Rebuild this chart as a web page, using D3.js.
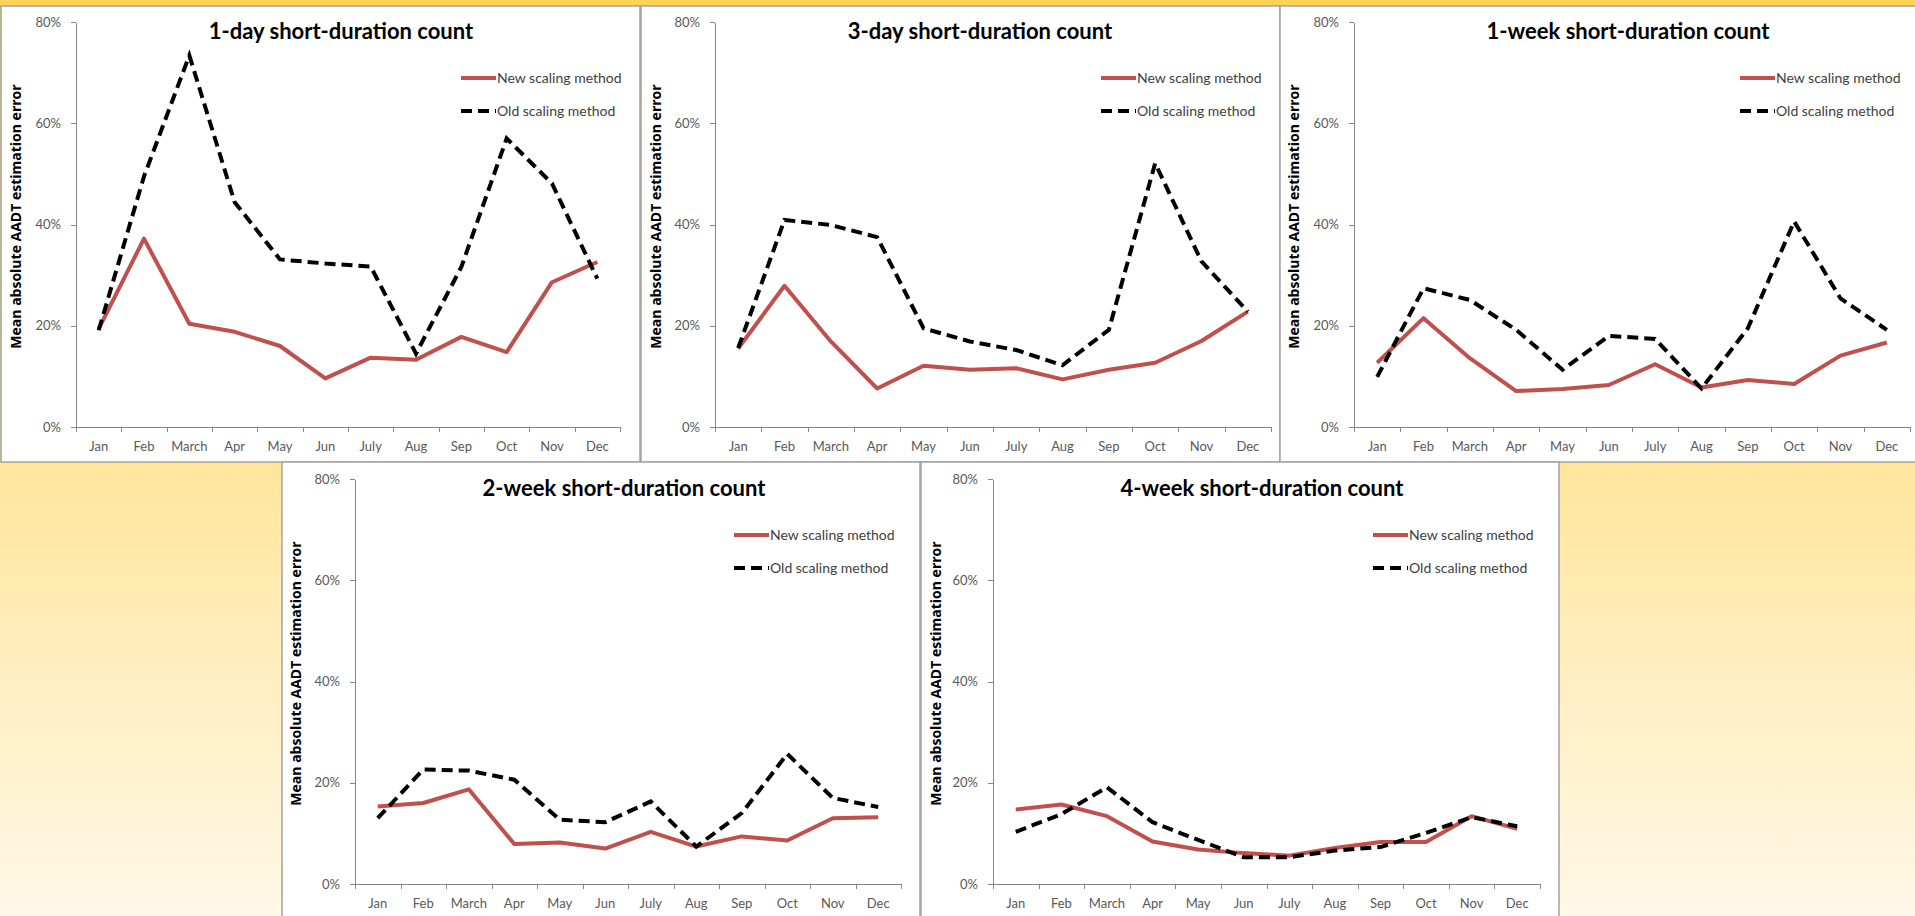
<!DOCTYPE html>
<html>
<head>
<meta charset="utf-8">
<script src="https://cdn.jsdelivr.net/npm/d3@7"></script>
<style>
	html, body { margin: 0; padding: 0; overflow: hidden; }
	body { width: 1915px; height: 916px; }
	.axis path, .axis line { stroke: #868686; shape-rendering: crispEdges; }
	.axis text { fill: #595959; font-family: Lato, sans-serif; font-size: 13px; }
</style>
</head>
<body>
<div id="container"></div>
<script>
	var months = ["Jan", "Feb", "March", "Apr", "May", "Jun", "July", "Aug", "Sep", "Oct", "Nov", "Dec"]
	var yTicks = [0, 20, 40, 60, 80]
	var titles = ["1-day short-duration count", "3-day short-duration count", "1-week short-duration count",
		"2-week short-duration count", "4-week short-duration count"]
	var seriesNames = ["New scaling method", "Old scaling method"]
	var yLabel = "Mean absolute AADT estimation error"

	// values in percent
	var newOneDay = [19.4, 37.2, 20.4, 18.8, 16.0, 9.6, 13.7, 13.3, 17.8, 14.8, 28.6, 32.6]
	var oldOneDay = [19.1, 49.5, 73.4, 44.4, 33.1, 32.3, 31.7, 14.5, 31.6, 57.0, 48.1, 29.3]

	var newThreeDay = [15.5, 27.9, 16.9, 7.6, 12.1, 11.3, 11.6, 9.4, 11.3, 12.7, 17.0, 22.8]
	var oldThreeDay = [15.6, 40.9, 39.9, 37.5, 19.5, 16.9, 15.2, 12.2, 19.2, 52.1, 32.7, 22.8]

	var newOneWeek = [12.7, 21.5, 13.6, 7.1, 7.5, 8.3, 12.4, 7.8, 9.3, 8.5, 14.1, 16.7]
	var oldOneWeek = [9.9, 27.4, 25.1, 19.2, 11.3, 18.0, 17.4, 7.6, 19.5, 40.6, 25.4, 19.2]

	var newTwoWeek = [15.3, 16.0, 18.7, 7.9, 8.2, 7.0, 10.3, 7.4, 9.4, 8.6, 13.0, 13.2]
	var oldTwoWeek = [13.0, 22.6, 22.4, 20.6, 12.7, 12.2, 16.3, 7.4, 14.0, 25.7, 17.0, 15.2]

	var newFourWeek = [14.7, 15.7, 13.4, 8.4, 6.8, 6.1, 5.6, 7.1, 8.3, 8.3, 13.4, 10.9]
	var oldFourWeek = [10.3, 13.8, 19.1, 12.2, 8.7, 5.3, 5.3, 6.6, 7.3, 10.1, 13.2, 11.4]

	var w = 1915
	var h = 916

	// panel boxes and plot areas (pixels)
	var layout = [
		{ left: 1, top: 6, right: 640, bottom: 462, x0: 76, x1: 620, yBottom: 427, yTop: 22, titleX: 341, legendX: 461, labelX: 16 },
		{ left: 641, top: 6, right: 1280, bottom: 462, x0: 715, x1: 1271, yBottom: 427, yTop: 22, titleX: 980, legendX: 1101, labelX: 656 },
		{ left: 1280, top: 6, right: 1918, bottom: 462, x0: 1354, x1: 1910, yBottom: 427, yTop: 22, titleX: 1628, legendX: 1740, labelX: 1294 },
		{ left: 282, top: 462, right: 920, bottom: 918, x0: 355, x1: 901, yBottom: 884, yTop: 479, titleX: 624, legendX: 734, labelX: 296 },
		{ left: 921, top: 462, right: 1559, bottom: 918, x0: 993, x1: 1540, yBottom: 884, yTop: 479, titleX: 1262, legendX: 1373, labelX: 936 }
	]
	var panelData = [
		[newOneDay, oldOneDay],
		[newThreeDay, oldThreeDay],
		[newOneWeek, oldOneWeek],
		[newTwoWeek, oldTwoWeek],
		[newFourWeek, oldFourWeek]
	]

	var svg = d3.select("#container")
		.append("svg")
		.attr("width", w)
		.attr("height", h)

	// yellow page background
	var grad = svg.append("defs").append("linearGradient")
		.attr("id", "bg")
		.attr("x1", 0).attr("y1", 0).attr("x2", 0).attr("y2", 1)
	grad.append("stop").attr("offset", "0%").attr("stop-color", "#ffd455")
	grad.append("stop").attr("offset", "50%").attr("stop-color", "#ffe59b")
	grad.append("stop").attr("offset", "100%").attr("stop-color", "#fff8e8")

	svg.append("rect")
		.attr("width", w)
		.attr("height", h)
		.attr("fill", "url(#bg)")

	let drawPanel = (p, data, title) => {
		let g = svg.append("g")

		g.append("rect")
			.attr("x", p.left)
			.attr("y", p.top)
			.attr("width", p.right - p.left)
			.attr("height", p.bottom - p.top)
			.attr("fill", "#fff")
			.attr("stroke", "#a3a3a3")
			.attr("stroke-width", 1.5)

		// scales
		let xScale = d3.scaleBand()
			.domain(months)
			.range([p.x0, p.x1])

		let xEdges = d3.scaleLinear()
			.domain([0, months.length])
			.range([p.x0, p.x1])

		let yScale = d3.scaleLinear()
			.domain([0, 80])
			.range([p.yBottom, p.yTop])

		// y axis
		g.append("g")
			.attr("class", "axis")
			.attr("transform", "translate(" + p.x0 + ",0)")
			.call(d3.axisLeft(yScale)
				.tickValues(yTicks)
				.tickSizeInner(5)
				.tickSizeOuter(0)
				.tickPadding(10)
				.tickFormat(d => d + "%"))

		// x axis with ticks between the months
		g.append("g")
			.attr("class", "axis")
			.attr("transform", "translate(0," + p.yBottom + ")")
			.call(d3.axisBottom(xEdges)
				.tickValues(d3.range(months.length + 1))
				.tickSizeInner(5)
				.tickSizeOuter(0)
				.tickFormat(""))

		// month labels
		let labels = g.append("g")
			.attr("class", "axis")
			.attr("transform", "translate(0," + p.yBottom + ")")
			.call(d3.axisBottom(xScale)
				.tickSize(0)
				.tickPadding(15))
		labels.select(".domain").remove()

		// lines
		let line = d3.line()
			.x((d, i) => xScale(months[i]) + xScale.bandwidth() / 2)
			.y(d => yScale(d))

		g.append("path")
			.datum(data[0])
			.attr("d", line)
			.attr("fill", "none")
			.attr("stroke", "#c0504d")
			.attr("stroke-width", 4)
			.attr("stroke-linejoin", "round")

		g.append("path")
			.datum(data[1])
			.attr("d", line)
			.attr("fill", "none")
			.attr("stroke", "#000")
			.attr("stroke-width", 4)
			.attr("stroke-dasharray", "11,6")

		// title
		g.append("text")
			.attr("x", p.titleX)
			.attr("y", p.yTop + 9)
			.attr("dy", "0.35em")
			.style("text-anchor", "middle")
			.style("font-family", "Lato, sans-serif")
			.style("font-weight", "bold")
			.style("font-size", "22px")
			.text(title)

		// legend
		seriesNames.forEach((name, i) => {
			let ly = p.yTop + 56 + i * 33
			g.append("line")
				.attr("x1", p.legendX)
				.attr("x2", p.legendX + 35)
				.attr("y1", ly)
				.attr("y2", ly)
				.attr("stroke", i == 0 ? "#c0504d" : "#000")
				.attr("stroke-width", 4)
				.attr("stroke-dasharray", i == 0 ? null : "11,6")
			g.append("text")
				.attr("x", p.legendX + 36)
				.attr("y", ly)
				.attr("dy", "0.35em")
				.style("font-family", "Lato, sans-serif")
				.style("font-size", "14px")
				.style("fill", "#404040")
				.text(name)
		})

		// y axis label
		g.append("text")
			.attr("transform", "rotate(-90)")
			.attr("x", -((p.yTop + p.yBottom) / 2 - 8))
			.attr("y", p.labelX)
			.attr("dy", "0.35em")
			.style("text-anchor", "middle")
			.style("font-family", "'Open Sans', sans-serif")
			.style("font-weight", "bold")
			.style("font-size", "14px")
			.text(yLabel)
	}

	layout.forEach((p, i) => drawPanel(p, panelData[i], titles[i]))
</script>
</body>
</html>
